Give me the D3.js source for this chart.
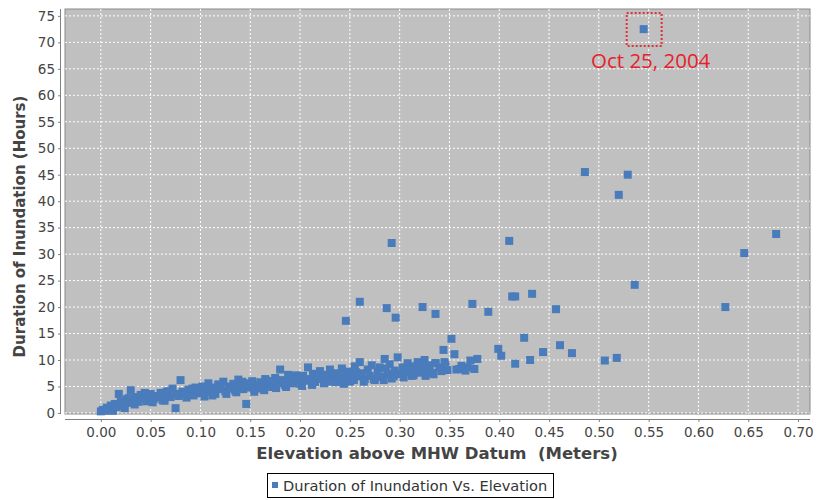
<!DOCTYPE html>
<html><head><meta charset="utf-8">
<script src="https://cdn.jsdelivr.net/npm/d3@7"></script>
<style>body{margin:0;background:#fff}svg{display:block}</style>
</head><body><svg id="c" width="817" height="500"></svg>
<script>
// Elevation (m) and duration (h) values
const elevation = [
0.000,0.002,0.004,0.006,0.008,0.010,0.012,0.014,0.016,0.018,0.020,0.022,0.024,0.026,0.028,0.030,0.032,0.035,0.038,0.040,
0.043,0.046,0.048,0.050,0.053,0.055,0.058,0.060,0.062,0.065,0.068,0.070,0.072,0.075,0.076,0.078,0.080,0.082,0.085,0.088,
0.090,0.093,0.095,0.098,0.100,0.102,0.105,0.108,0.110,0.113,0.115,0.118,0.120,0.123,0.125,0.128,0.130,0.133,0.135,0.138,
0.140,0.143,0.146,0.147,0.150,0.152,0.155,0.158,0.160,0.162,0.165,0.168,0.170,0.172,0.175,0.178,0.180,0.182,0.185,0.188,
0.190,0.192,0.195,0.198,0.200,0.203,0.205,0.208,0.210,0.213,0.215,0.218,0.220,0.222,0.225,0.228,0.230,0.232,0.235,0.238,
0.240,0.242,0.245,0.248,0.250,0.252,0.255,0.258,0.260,0.262,0.265,0.268,0.270,0.272,0.275,0.278,0.280,0.282,0.285,0.288,
0.290,0.292,0.295,0.298,0.300,0.303,0.305,0.308,0.310,0.312,0.315,0.318,0.320,0.322,0.325,0.328,0.330,0.333,0.336,0.340,
0.324,0.336,0.345,0.344,0.355,0.352,0.360,0.362,0.366,0.371,0.375,0.378,0.399,0.402,0.416,0.425,0.431,0.444,0.461,0.473,
0.506,0.518,0.246,0.260,0.287,0.296,0.323,0.336,0.373,0.389,0.413,0.416,0.433,0.457,0.536,0.627,0.292,0.410,0.646,0.678,
0.486,0.529,0.520,0.545,0.012,0.028,0.044,0.066,0.092,0.118,0.142,0.166,0.196,0.226,0.256,0.286,0.316,0.346,
0.034,0.052,0.064,0.086,0.104,0.112,0.126,0.136,0.154,0.164,0.176,0.186,0.202,0.212,0.224,0.236,0.244,0.254,0.264,0.274,
0.284,0.294,0.304,0.314,0.326,0.334,0.342,0.348,0.357,0.368
];
const duration = [
0.3,0.6,0.4,1.0,0.8,1.4,0.7,1.7,1.1,3.6,2.2,1.5,0.9,2.6,1.9,4.3,2.4,3.0,2.1,3.4,
2.7,2.2,3.1,3.6,2.6,3.2,2.9,3.8,2.4,3.4,4.1,3.0,4.6,0.9,3.6,3.2,6.2,4.0,3.5,4.4,
3.8,3.3,4.8,4.1,3.7,5.0,4.4,5.6,4.0,4.8,3.6,5.2,4.5,5.9,4.1,5.0,4.6,5.5,4.2,6.3,
5.0,4.5,1.7,5.6,4.8,6.0,5.2,4.6,5.8,5.1,6.4,5.4,6.0,4.9,6.6,5.6,8.2,6.2,5.3,7.2,
6.0,5.6,6.8,6.3,5.5,7.0,6.4,8.6,6.1,7.4,5.8,6.8,7.9,6.4,7.2,5.9,8.2,6.8,7.5,6.2,
7.0,8.4,6.6,7.8,5.9,7.2,8.8,6.9,9.6,7.5,6.4,8.2,7.0,9.0,6.2,7.8,8.6,6.8,10.2,7.4,
9.2,6.5,8.0,10.5,7.3,8.6,7.8,9.4,8.2,7.0,8.8,9.6,7.6,8.4,10.0,8.0,9.0,7.6,9.4,8.6,
8.7,9.4,9.6,11.9,11.1,14.0,8.3,8.9,8.0,9.9,8.3,10.2,12.1,10.8,9.3,14.2,10.0,11.5,12.8,11.3,
9.9,10.4,17.4,21.0,19.8,18.0,20.0,18.7,20.6,19.1,22.0,22.0,22.5,19.6,24.2,20.0,32.1,32.5,30.2,33.8,
45.5,45.0,41.2,72.5,0.4,2.8,3.8,4.0,4.6,5.4,5.9,6.1,7.1,6.9,7.7,8.4,8.2,9.1,
1.6,2.0,2.3,2.9,3.1,3.3,3.6,3.9,4.0,4.3,4.7,4.9,5.1,5.3,5.6,5.8,5.5,6.2,5.9,6.4,
6.2,6.9,6.7,7.1,7.0,7.3,7.9,8.1,8.2,8.6
];
const xTicks = [0,0.05,0.1,0.15,0.2,0.25,0.3,0.35,0.4,0.45,0.5,0.55,0.6,0.65,0.7];
const yTicks = [0,5,10,15,20,25,30,35,40,45,50,55,60,65,70,75];
const seriesName = "Duration of Inundation Vs. Elevation";
const xTitle = "Elevation above MHW Datum  (Meters)";
const yTitle = "Duration of Inundation (Hours)";
const note = {label:"Oct 25, 2004", x:0.545, y:72.5};

const svg = d3.select("#c");
const L=65,R=810,T=9,B=414;
const x = d3.scaleLinear().domain([-0.036,0.712]).range([L,R]);
const y = d3.scaleLinear().domain([-0.2,76.3]).range([B,T]);
const font = "'DejaVu Sans', sans-serif";

svg.append("rect").attr("x",L).attr("y",T).attr("width",R-L).attr("height",B-T)
  .attr("fill","#c0c0c0").attr("stroke","#8a8a8a").attr("stroke-width",1);

const g = svg.append("g");
g.selectAll(".vg").data(xTicks).join("line")
  .attr("x1",d=>x(d)).attr("x2",d=>x(d)).attr("y1",T).attr("y2",B)
  .attr("stroke","#fff").attr("stroke-width",1).attr("stroke-dasharray","2,2");
g.selectAll(".hg").data(yTicks).join("line")
  .attr("y1",d=>y(d)).attr("y2",d=>y(d)).attr("x1",L).attr("x2",R)
  .attr("stroke","#fff").attr("stroke-width",1).attr("stroke-dasharray","2,2");

// axes
const xa = svg.append("g").attr("transform",`translate(0,${B+5})`)
  .call(d3.axisBottom(x).tickValues(xTicks).tickFormat(d3.format(".2f")).tickSize(3).tickSizeOuter(0));
const ya = svg.append("g").attr("transform",`translate(${L-4},0)`)
  .call(d3.axisLeft(y).tickValues(yTicks).tickFormat(d3.format("d")).tickSize(3).tickSizeOuter(0));
[xa,ya].forEach(a=>{
  a.select(".domain").attr("stroke","#808080");
  a.selectAll(".tick line").attr("stroke","#808080");
  a.selectAll("text").attr("fill","#444").style("font-family",font).style("font-size","13.5px");
});
xa.select(".domain").attr("d",`M${L},0.5H${R}`);
ya.select(".domain").attr("d",`M-0.5,${T}V${B}`);
xa.selectAll(".tick text").attr("dy","0.9em");
ya.selectAll(".tick text").attr("x",-6);

svg.append("text").attr("x",437).attr("y",459).attr("text-anchor","middle")
  .style("font-family",font).style("font-size","16.5px").style("font-weight","bold").style("white-space","pre")
  .attr("fill","#444").text(xTitle);
svg.append("text").attr("transform",`translate(25,${(T+B)/2+15}) rotate(-90)`).attr("text-anchor","middle")
  .style("font-family",font).style("font-size","15px").style("font-weight","bold").attr("fill","#444")
  .text(yTitle);

// points
const pts = elevation.map((e,i)=>({e,d:duration[i]}));
const s = 8;
svg.append("g").selectAll("rect").data(pts).join("rect")
  .attr("x",d=>x(d.e)-s/2).attr("y",d=>y(d.d)-s/2).attr("width",s).attr("height",s)
  .attr("fill","#4a7cbc");

// annotation
svg.append("rect").attr("x",x(note.x)-17).attr("y",y(note.y)-16).attr("width",35).attr("height",33)
  .attr("fill","none").attr("stroke","#e0303a").attr("stroke-width",2).attr("stroke-dasharray","2,2");
svg.append("text").attr("x",x(note.x)+7).attr("y",y(note.y)+39).attr("text-anchor","middle")
  .style("font-family","'Open Sans', sans-serif").style("font-size","20.5px").attr("fill","#e8202a")
  .text(note.label);

// legend
const lg = svg.append("g");
lg.append("rect").attr("x",267.5).attr("y",473.5).attr("width",286).attr("height",24)
  .attr("fill","#fff").attr("stroke","#000").attr("stroke-width",1);
lg.append("rect").attr("x",272).attr("y",482).attr("width",6).attr("height",6).attr("fill","#4a7cbc");
lg.append("text").attr("x",283).attr("y",490.5).style("font-family",font).style("font-size","14.6px")
  .attr("fill","#333").text(seriesName);
</script></body></html>
